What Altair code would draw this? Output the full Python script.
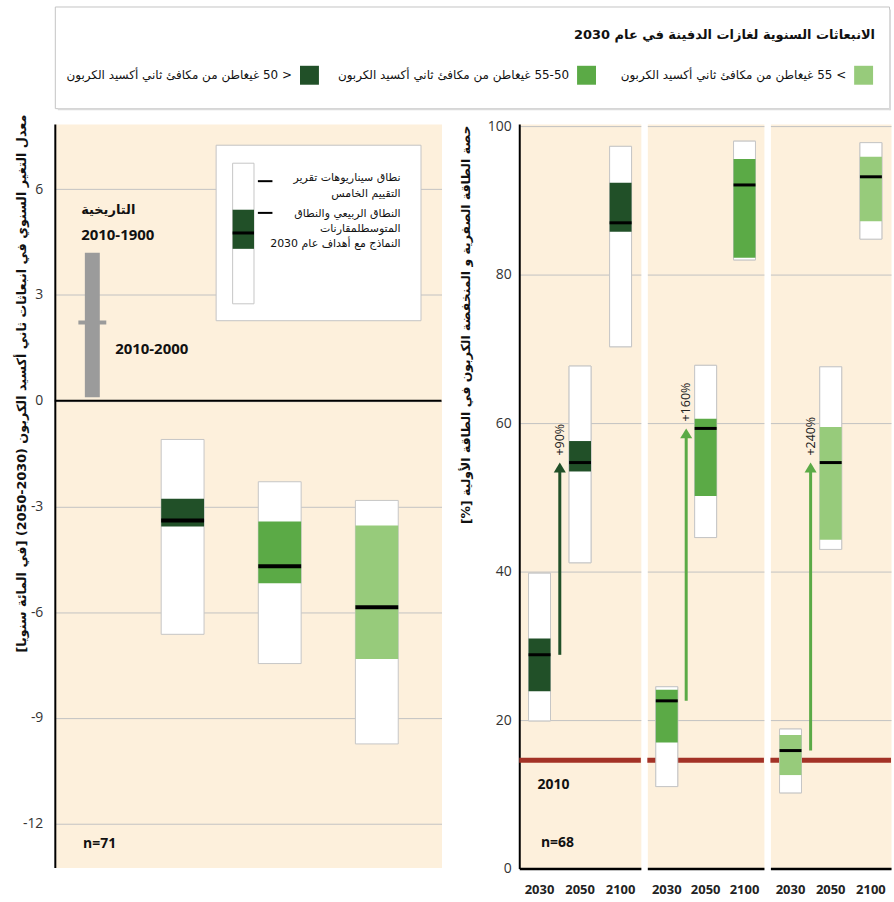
import altair as alt
import pandas as pd


def rtl(s):
    # right-to-left embedding so Arabic lines keep their reading order
    return "\u202b" + s + "\u202c"


AR = "DejaVu Sans"
NUM = "Open Sans"
PEACH = "#FDF0DC"
GRID = "#C3C3C3"
BOX_EDGE = "#C6C6C6"
RED = "#A33226"
HIST_GRAY = "#9B9B9B"
HYPHEN_LABELS = "datum.value < 0 ? '-' + abs(datum.value) : '' + datum.value"

# ---- emission classes (annual GHG emissions in 2030) ----
class_keys = ["lt50", "50-55", "gt55"]
class_colors = ["#215028", "#5BAA46", "#97CB7B"]
arrow_colors = ["#215028", "#5BAA46", "#5BAA46"]
class_names = [
    rtl("< 50 غيغاطن من مكافئ ثاني أكسيد الكربون"),
    rtl("55-50 غيغاطن من مكافئ ثاني أكسيد الكربون"),
    rtl("> 55 غيغاطن من مكافئ ثاني أكسيد الكربون"),
]
legend_title = rtl("الانبعاثات السنوية لغازات الدفينة في عام 2030")

# ---- left panel: annual rate of change of CO2 emissions, 2030-2050 (%/yr) ----
rate_lo = [-6.63, -7.46, -9.74]
rate_q1 = [-3.57, -5.18, -7.33]
rate_med = [-3.40, -4.70, -5.86]
rate_q3 = [-2.78, -3.43, -3.54]
rate_hi = [-1.10, -2.30, -2.83]
hist_lo, hist_hi = 0.1, 4.2      # 1900-2010
hist_recent = 2.22               # 2000-2010
left_n = "n=71"

# ---- right panels: low-carbon share of primary energy (%) ----
years = ["2030", "2050", "2100"]
share_lo = [[19.9, 41.2, 70.3], [11.05, 44.6, 82.0], [10.2, 43.0, 84.8]]
share_q1 = [[23.9, 53.5, 85.8], [17.0, 50.2, 82.3], [12.6, 44.3, 87.2]]
share_med = [[28.8, 54.7, 87.0], [22.6, 59.3, 92.1], [15.9, 54.7, 93.2]]
share_q3 = [[31.0, 57.6, 92.4], [24.1, 60.6, 95.6], [18.0, 59.5, 95.9]]
share_hi = [[39.8, 67.7, 97.3], [24.5, 67.8, 98.0], [18.8, 67.6, 97.8]]
share_2010 = 14.6
increase_labels = ["+90%", "+160%", "+240%"]
right_n = "n=68"

left_title = "معدل التغير السنوي في انبعاثات ثاني أكسيد الكربون (2030-2050) [في المائة سنويا]"
right_title = "حصة الطاقة الصفرية و المنخفضة الكربون في الطاقة الأولية [%]"
key_lines = [
    "نطاق سيناريوهات تقرير",
    "التقييم الخامس",
    "النطاق الربيعي والنطاق",
    "المتوسطلمقارنات",
    "النماذج مع أهداف عام 2030",
]

color_scale = alt.Scale(domain=class_keys, range=class_colors)

# =================== top legend ===================
LEG_W, LEG_H = 837, 102
legend_df = pd.DataFrame({"key": class_keys, "name": class_names})
# one anchor per legend entry: the right edge of its colour swatch
xg = alt.X("key:N", scale=alt.Scale(type="point", domain=class_keys, range=[265, 821], padding=0),
           axis=None)
lg_title = alt.Chart(pd.DataFrame({"t": [legend_title]})).mark_text(
    align="right", baseline="middle", font=AR, fontSize=13, fontWeight="bold", color="#111111"
).encode(x=alt.value(823), y=alt.value(29), text="t:N")
lg_swatch = alt.Chart(legend_df).mark_square(size=361, opacity=1, xOffset=-9.5).encode(
    x=xg, y=alt.value(69), color=alt.Color("key:N", scale=color_scale, legend=None)
)
lg_text = alt.Chart(legend_df).mark_text(
    align="right", baseline="middle", font=AR, fontSize=12, xOffset=-27, color="#111111"
).encode(x=xg, y=alt.value(69), text="name:N")
lg_shadow_r = alt.Chart(pd.DataFrame({"a": [0]})).mark_rule(color="#dadada", strokeWidth=2).encode(
    x=alt.value(LEG_W + 1), y=alt.value(3), y2=alt.value(LEG_H + 2)
)
lg_shadow_b = alt.Chart(pd.DataFrame({"a": [0]})).mark_rule(color="#dadada", strokeWidth=2).encode(
    x=alt.value(3), x2=alt.value(LEG_W + 2), y=alt.value(LEG_H + 1)
)
legend = alt.layer(lg_shadow_r, lg_shadow_b, lg_title, lg_swatch, lg_text).properties(
    width=LEG_W, height=LEG_H, view=alt.ViewBackground(fill="white", stroke="#c4c4c4", strokeWidth=1)
)

# =================== left panel ===================
scen_x = [1.265, 2.265, 3.265]
hist_x = 0.335
xl = alt.X("x:Q", scale=alt.Scale(domain=[0, 3.88], nice=False, zero=False), axis=None)
yl_scale = alt.Scale(domain=[-13.25, 7.85], nice=False, zero=False)
yl_axis = alt.Axis(
    values=[-12, -9, -6, -3, 0, 3, 6], grid=True, gridColor=GRID, gridWidth=1,
    domainColor="black", domainWidth=2, ticks=False, tickSize=0, labelPadding=12,
    labelFont=NUM, labelFontSize=14, labelColor="#333333", labelExpr=HYPHEN_LABELS,
    title=rtl(left_title), titleFont=AR, titleFontSize=12.8, titleFontWeight="bold",
    titleColor="#111111", titleAngle=270, titleAlign="right", titleBaseline="middle",
    titleX=-33, titleY=-10,
)

left_df = pd.DataFrame({
    "x": scen_x, "lo": rate_lo, "q1": rate_q1, "med": rate_med,
    "q3": rate_q3, "hi": rate_hi, "key": class_keys,
})
lb = alt.Chart(left_df)
l_white = lb.mark_bar(width=43, fill="white", stroke=BOX_EDGE, strokeWidth=1).encode(
    x=xl, y=alt.Y("lo:Q", scale=yl_scale, axis=yl_axis), y2="hi:Q"
)
l_iqr = lb.mark_bar(width=43).encode(
    x=xl, y="q1:Q", y2="q3:Q", color=alt.Color("key:N", scale=color_scale, legend=None)
)
l_med = lb.mark_tick(orient="horizontal", size=43, thickness=4, color="black", opacity=1).encode(
    x=xl, y="med:Q"
)

zero_rule = alt.Chart(pd.DataFrame({"v": [0]})).mark_rule(color="black", strokeWidth=2).encode(y="v:Q")

hist_df = pd.DataFrame({"x": [hist_x], "lo": [hist_lo], "hi": [hist_hi], "recent": [hist_recent]})
h_bar = alt.Chart(hist_df).mark_bar(width=15, color=HIST_GRAY).encode(x=xl, y="lo:Q", y2="hi:Q")
h_tick = alt.Chart(hist_df).mark_tick(
    orient="horizontal", size=28, thickness=4, color=HIST_GRAY, opacity=1
).encode(x=xl, y="recent:Q")
h_ar = alt.Chart(pd.DataFrame({"x": [0.22], "y": [5.41], "t": [rtl("التاريخية")]})).mark_text(
    align="left", baseline="middle", font=AR, fontSize=13, fontWeight="bold", color="#111111"
).encode(x=xl, y="y:Q", text="t:N")
h_num = alt.Chart(pd.DataFrame({"x": [0.22, 0.57], "y": [4.7, 1.47], "t": ["2010-1900", "2010-2000"]})).mark_text(
    align="left", baseline="middle", font=NUM, fontSize=15, fontWeight="bold", color="#111111"
).encode(x=xl, y="y:Q", text="t:N")
l_n = alt.Chart(pd.DataFrame({"x": [0.41], "y": [-12.58], "t": [left_n]})).mark_text(
    align="center", baseline="middle", font=NUM, fontSize=14, fontWeight="bold", color="#111111"
).encode(x=xl, y="y:Q", text="t:N")

# key explaining the box symbols
key_box = alt.Chart(pd.DataFrame({"x": [1.61], "x2": [3.72], "y": [2.27], "y2": [7.25]})).mark_rect(
    fill="white", stroke="#c4c4c4", strokeWidth=1
).encode(x=xl, x2="x2:Q", y="y:Q", y2="y2:Q")
key_range = alt.Chart(pd.DataFrame({"x": [1.78], "x2": [2.0], "y": [2.75], "y2": [6.74]})).mark_rect(
    fill="white", stroke=BOX_EDGE, strokeWidth=1
).encode(x=xl, x2="x2:Q", y="y:Q", y2="y2:Q")
key_iqr = alt.Chart(pd.DataFrame({"x": [1.78], "x2": [2.0], "y": [4.31], "y2": [5.42]})).mark_rect(
    fill=class_colors[0]
).encode(x=xl, x2="x2:Q", y="y:Q", y2="y2:Q")
key_med = alt.Chart(pd.DataFrame({"x": [1.78], "x2": [2.0], "y": [4.76]})).mark_rule(
    color="black", strokeWidth=3
).encode(x=xl, x2="x2:Q", y="y:Q")
key_dash = alt.Chart(pd.DataFrame({"x": [2.04, 2.04], "x2": [2.19, 2.19], "y": [6.23, 5.33]})).mark_rule(
    color="black", strokeWidth=2
).encode(x=xl, x2="x2:Q", y="y:Q")
key_text = alt.Chart(pd.DataFrame({
    "x": [3.51] * 5, "y": [6.32, 5.86, 5.30, 4.87, 4.45], "t": [rtl(s) for s in key_lines],
})).mark_text(align="right", baseline="middle", font=AR, fontSize=11, color="#111111").encode(
    x=xl, y="y:Q", text="t:N"
)

left = alt.layer(
    l_white, zero_rule, h_bar, h_tick, h_ar, h_num, l_iqr, l_med, l_n,
    key_box, key_range, key_iqr, key_med, key_dash, key_text,
).properties(width=388, height=746, view=alt.ViewBackground(fill=PEACH, stroke="transparent"))

# =================== right panels ===================
ARROW_HEAD = "M0,0L-0.55,0.9L0.55,0.9Z"
yr_scale = alt.Scale(domain=[0, 100.3], nice=False, zero=False)
panel_widths = [122, 117, 121]


def share_panel(i):
    if i == 0:
        y_axis = alt.Axis(
            values=[0, 20, 40, 60, 80, 100], grid=True, gridColor=GRID, gridWidth=1,
            domainColor="black", domainWidth=2, ticks=False, tickSize=0, labelPadding=8,
            labelFont=NUM, labelFontSize=14, labelColor="#333333",
            title=rtl(right_title), titleFont=AR, titleFontSize=12.5, titleFontWeight="bold",
            titleColor="#111111", titleAngle=270, titleAlign="right", titleBaseline="middle",
            titleX=-54, titleY=1,
        )
    else:
        y_axis = alt.Axis(
            values=[0, 20, 40, 60, 80, 100], grid=True, gridColor=GRID, gridWidth=1,
            domain=False, ticks=False, labels=False, title=None,
        )
    x_axis = alt.Axis(
        labelAngle=0, labelFont=NUM, labelFontWeight="bold", labelFontSize=13,
        labelColor="#222222", labelPadding=15, ticks=False, tickSize=0,
        domainColor="black", domainWidth=2.5, title=None, grid=False,
    )
    xs = alt.Scale(domain=years, paddingInner=0, paddingOuter=0)
    xr = alt.X("year:N", scale=xs, axis=x_axis)
    xb = alt.X("year:N", bandPosition=1)

    df = pd.DataFrame({
        "year": years, "lo": share_lo[i], "q1": share_q1[i], "med": share_med[i],
        "q3": share_q3[i], "hi": share_hi[i], "key": [class_keys[i]] * 3,
    })
    base = alt.Chart(df)
    white = base.mark_bar(width=22, fill="white", stroke=BOX_EDGE, strokeWidth=1).encode(
        x=xr, y=alt.Y("lo:Q", scale=yr_scale, axis=y_axis), y2="hi:Q"
    )
    iqr = base.mark_bar(width=22).encode(
        x=xr, y="q1:Q", y2="q3:Q", color=alt.Color("key:N", scale=color_scale, legend=None)
    )
    med = base.mark_tick(orient="horizontal", size=22, thickness=3, color="black", opacity=1).encode(
        x=xr, y="med:Q"
    )

    ref = alt.Chart(pd.DataFrame({"v": [share_2010]})).mark_rule(color=RED, strokeWidth=5).encode(y="v:Q")

    arrow_df = pd.DataFrame({
        "year": ["2030"], "start": [share_med[i][0]], "end": [share_med[i][1]],
        "label": [increase_labels[i]],
    })
    ab = alt.Chart(arrow_df)
    shaft = ab.mark_rule(strokeWidth=3, color=arrow_colors[i], y2Offset=8).encode(
        x=xb, y="start:Q", y2="end:Q"
    )
    head = ab.mark_point(shape=ARROW_HEAD, size=484, filled=True, opacity=1, color=arrow_colors[i],
                         strokeWidth=0).encode(x=xb, y="end:Q")
    pct = ab.mark_text(angle=270, align="left", baseline="middle", font=NUM, fontSize=12.5,
                       yOffset=-7, color="#222222").encode(x=xb, y="end:Q", text="label:N")

    layers = [white, ref, white, iqr, med, shaft, head, pct]
    if i == 0:
        t2010 = alt.Chart(pd.DataFrame({"year": ["2030"], "y": [11.3], "t": ["2010"]})).mark_text(
            align="center", baseline="middle", font=NUM, fontSize=14, fontWeight="bold",
            color="#111111", dx=14,
        ).encode(x=xr, y="y:Q", text="t:N")
        tn = alt.Chart(pd.DataFrame({"year": ["2030"], "y": [3.4], "t": [right_n]})).mark_text(
            align="center", baseline="middle", font=NUM, fontSize=14, fontWeight="bold",
            color="#111111", dx=18,
        ).encode(x=xr, y="y:Q", text="t:N")
        layers += [t2010, tn]
    return alt.layer(*layers).properties(
        width=panel_widths[i], height=747,
        view=alt.ViewBackground(fill=PEACH, stroke="transparent"),
    )


right = alt.hconcat(share_panel(0), share_panel(1), share_panel(2), spacing=6.5, bounds="flush")
bottom = alt.hconcat(left, right, spacing=78, bounds="flush")

chart = alt.vconcat(legend, bottom, spacing=16, bounds="flush").properties(
    padding={"left": 15, "top": 4, "right": 0, "bottom": 0}, background="white"
).configure_view(stroke="transparent")

chart.save("out.html", embed_options={"renderer": "svg", "actions": False})
